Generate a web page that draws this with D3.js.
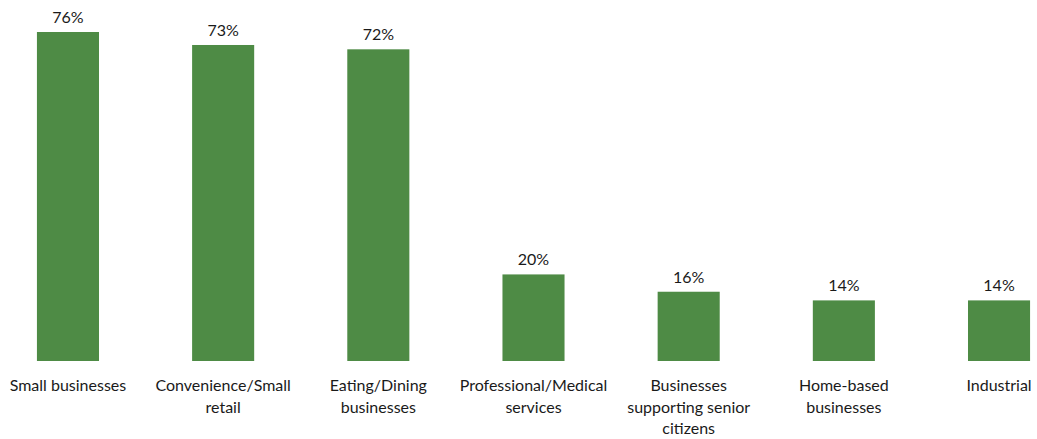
<!DOCTYPE html>
<html>
<head>
<meta charset="utf-8">
<script src="https://cdn.jsdelivr.net/npm/d3@7"></script>
<style>
  html, body { margin: 0; padding: 0; background: #fff; }
  svg { display: block; }
  text { font-family: Lato, "Open Sans", sans-serif; fill: #1a1a1a; }
</style>
</head>
<body>
<svg id="chart" width="1037" height="439"></svg>
<script>
// Business types and share of respondents (%)
const categories = [
  "Small businesses",
  "Convenience/Small retail",
  "Eating/Dining businesses",
  "Professional/Medical services",
  "Businesses supporting senior citizens",
  "Home-based businesses",
  "Industrial"
];
// Wrapped axis labels, one array of lines per category
const labelLines = [
  ["Small businesses"],
  ["Convenience/Small", "retail"],
  ["Eating/Dining", "businesses"],
  ["Professional/Medical", "services"],
  ["Businesses", "supporting senior", "citizens"],
  ["Home-based", "businesses"],
  ["Industrial"]
];
const values = [76, 73, 72, 20, 16, 14, 14];

const width = 1037, height = 439;
const baseY = 361;
const svg = d3.select("#chart");

const x = d3.scaleBand()
  .domain(categories)
  .range([0, 1067])
  .paddingInner(0.6)
  .paddingOuter(0.238);

const y = d3.scaleLinear()
  .domain([0, 76])
  .range([baseY, 32]);

// Bars
svg.append("g")
  .selectAll("rect")
  .data(values)
  .join("rect")
  .attr("x", (d, i) => x(categories[i]))
  .attr("y", d => y(d))
  .attr("width", x.bandwidth())
  .attr("height", d => y(0) - y(d))
  .attr("fill", "#4e8b45");

// Value labels
svg.append("g")
  .selectAll("text")
  .data(values)
  .join("text")
  .attr("x", (d, i) => x(categories[i]) + x.bandwidth() / 2)
  .attr("y", d => y(d) - 9)
  .attr("text-anchor", "middle")
  .attr("font-size", 16)
  .text(d => d + "%");

// Category labels under the bars
const lab = svg.append("g")
  .selectAll("text")
  .data(categories)
  .join("text")
  .attr("x", d => x(d) + x.bandwidth() / 2)
  .attr("y", 391)
  .attr("text-anchor", "middle")
  .attr("font-size", 16);

lab.selectAll("tspan")
  .data((d, i) => labelLines[i])
  .join("tspan")
  .attr("x", function() { return d3.select(this.parentNode).attr("x"); })
  .attr("dy", (d, j) => j === 0 ? 0 : 21.5)
  .text(d => d);
</script>
</body>
</html>
